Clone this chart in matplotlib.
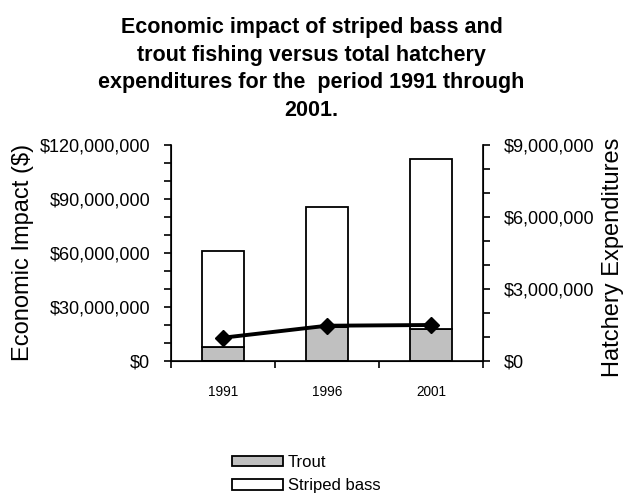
import matplotlib
matplotlib.use("Agg")
import matplotlib.pyplot as plt
from matplotlib.ticker import FuncFormatter, MultipleLocator
from matplotlib.patches import Patch

plt.rcParams['font.family'] = ['Liberation Sans', 'DejaVu Sans']

years = ["1991", "1996", "2001"]
trout = [8000000, 19000000, 18000000]
striped_bass = [53000000, 66500000, 94000000]
hatchery = [970000, 1470000, 1500000]

def dollars(v, pos):
    return "${:,.0f}".format(v)

W, H = 623, 497
fig = plt.figure(figsize=(6.23, 4.97), dpi=100)
ax = fig.add_axes([171/W, 1-361/H, 312/W, 216/H])
x = range(len(years))
ax.bar(x, trout, width=0.4, color="#c0c0c0", edgecolor="black", linewidth=1.3)
ax.bar(x, striped_bass, width=0.4, bottom=trout, color="white", edgecolor="black", linewidth=1.3)
ax.set_xlim(-0.5, 2.5)
ax.set_ylim(0, 120000000)
ax.yaxis.set_major_locator(MultipleLocator(30000000))
ax.yaxis.set_minor_locator(MultipleLocator(10000000))
ax.yaxis.set_major_formatter(FuncFormatter(dollars))
ax.set_xticks([-0.5, 0.5, 1.5, 2.5])
ax.set_xticklabels([])
ax.set_xticks(list(x), minor=True)
ax.set_xticklabels(years, minor=True, fontsize=9.8)
ax.tick_params(axis="x", which="minor", length=0, pad=17)
ax.tick_params(axis="x", which="major", length=5, direction="out", width=1.2)
ax.tick_params(axis="y", which="both", direction="out", labelsize=13, length=5, width=1.2, pad=10)
ax.spines["top"].set_visible(False)
for s in ["left", "bottom"]:
    ax.spines[s].set_linewidth(1.2)

ax2 = ax.twinx()
ax2.plot(x, hatchery, color="black", linewidth=2.8, marker="D", markersize=8)
ax2.set_ylim(0, 9000000)
ax2.yaxis.set_major_locator(MultipleLocator(3000000))
ax2.yaxis.set_minor_locator(MultipleLocator(1000000))
ax2.yaxis.set_major_formatter(FuncFormatter(dollars))
ax2.tick_params(axis="y", which="both", direction="out", labelsize=13, length=5, width=1.2, pad=10)
ax2.spines["top"].set_visible(False)
ax2.spines["right"].set_linewidth(1.2)

# axis titles sit over the tick labels, as in the original
fig.text(23/W, 1-252/H, "Economic Impact ($)", rotation=90, fontsize=17,
         ha="center", va="center")
fig.text(613/W, 1-257/H, "Hatchery Expenditures", rotation=90, fontsize=17,
         ha="center", va="center")

fig.text(0.5, 1-17/H, "Economic impact of striped bass and\ntrout fishing versus total hatchery\n"
         "expenditures for the  period 1991 through\n2001.",
         fontsize=15.5, fontweight="bold", ha="center", va="top", linespacing=1.42)

handles = [Patch(facecolor="#c0c0c0", edgecolor="black", linewidth=1.3, label="Trout"),
           Patch(facecolor="white", edgecolor="black", linewidth=1.3, label="Striped bass")]
fig.legend(handles=handles, loc="center", bbox_to_anchor=(0.492, 1-474/H), frameon=False,
           fontsize=12, handlelength=3.05, handleheight=0.6, labelspacing=0.5,
           handletextpad=0.3)

fig.savefig("out.png", dpi=100)
